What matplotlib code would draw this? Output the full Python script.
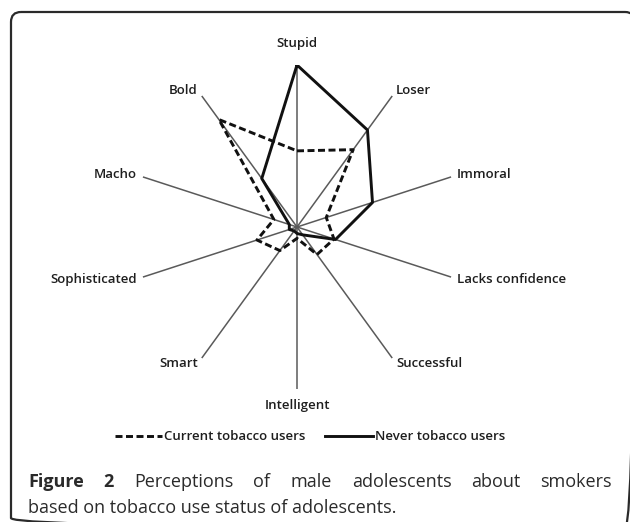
import numpy as np
import matplotlib
matplotlib.use('Agg')
import matplotlib.pyplot as plt
from matplotlib.patches import FancyBboxPatch

# Perception categories, clockwise from the top
categories = ['Stupid', 'Loser', 'Immoral', 'Lacks confidence', 'Successful',
              'Intelligent', 'Smart', 'Sophisticated', 'Macho', 'Bold']
current_users = [47, 59, 19, 24, 21, 7, 18, 26, 15, 82]
never_users = [100, 74, 49, 25, 6, 4, 3, 5, 5, 37]
series_names = ['Current tobacco users', 'Never tobacco users']

caption_bold = 'Figure 2'
caption_line1 = 'Perceptions of male adolescents about smokers'
caption_line2 = 'based on tobacco use status of adolescents.'

plt.rcParams['font.family'] = ['Open Sans', 'DejaVu Sans']

W, H = 630, 522
fig = plt.figure(figsize=(W / 100, H / 100), dpi=100)

# background axes in pixel units for the frame and caption
bg = fig.add_axes([0, 0, 1, 1])
bg.set_xlim(0, W)
bg.set_ylim(H, 0)
bg.axis('off')
frame = FancyBboxPatch((11, 12), 624, 516, boxstyle='round,pad=0,rounding_size=10',
                       fill=False, edgecolor='#2a2a2a', linewidth=1.6)
bg.add_patch(frame)

# radar axes: centre (297, 227), radius 162 px
cx, cy, R = 297, 227, 162
ax = fig.add_axes([(cx - R) / W, (H - cy - R) / H, 2 * R / W, 2 * R / H], projection='polar')
ax.set_theta_zero_location('N')
ax.set_theta_direction(-1)
ax.set_ylim(0, 100)
ax.axis('off')
ax.patch.set_alpha(0)

n = len(categories)
theta = np.arange(n) * 2 * np.pi / n

# spokes
for t in theta:
    ax.plot([t, t], [0, 100], color='#5a5a5a', linewidth=1.1, zorder=1)

th = np.append(theta, theta[0])
cur = np.append(current_users, current_users[0])
nev = np.append(never_users, never_users[0])
l1, = ax.plot(th, cur, color='#111111', linewidth=2.1, linestyle=(0, (2.4, 1.2)), zorder=3)
l2, = ax.plot(th, nev, color='#111111', linewidth=2.1, zorder=3)

# category labels
lab = dict(fontsize=9.5, color='#1e1e1e', fontweight='semibold')
for t, name in zip(theta, categories):
    deg = np.degrees(t) % 360
    if deg == 0:
        ax.text(t, 113.5, name, ha='center', va='center', **lab)
    elif deg == 180:
        ax.text(t, 110, name, ha='center', va='center', **lab)
    elif deg < 180:
        ax.text(t, 104, name, ha='left', va='center', **lab)
    else:
        ax.text(t, 104, name, ha='right', va='center', **lab)

# legend
leg = fig.legend([l1, l2], series_names, ncol=2, loc='center', frameon=False,
                 bbox_to_anchor=(310 / W, 1 - 437 / H), fontsize=9.5,
                 handlelength=3.6, handletextpad=0.15, columnspacing=1.5,
                 labelcolor='#1e1e1e')
for t in leg.get_texts():
    t.set_fontweight('semibold')

# caption, first line justified
renderer = fig.canvas.get_renderer()
x0, x1 = 28, 612
words = [(w, 'bold') for w in caption_bold.split()] + \
        [(w, 'normal') for w in caption_line1.split()]
texts = []
for w, fw in words:
    texts.append(bg.text(0, 487, w, fontsize=13, fontweight=fw, color='#2a2a2a',
                         ha='left', va='baseline'))
widths = [t.get_window_extent(renderer).width for t in texts]
gap = (x1 - x0 - sum(widths)) / (len(texts) - 1)
x = x0
for t, wd in zip(texts, widths):
    t.set_x(x)
    x += wd + gap
bg.text(x0, 513, caption_line2, fontsize=13, color='#2a2a2a', ha='left', va='baseline')

fig.savefig('out.png', dpi=100)
